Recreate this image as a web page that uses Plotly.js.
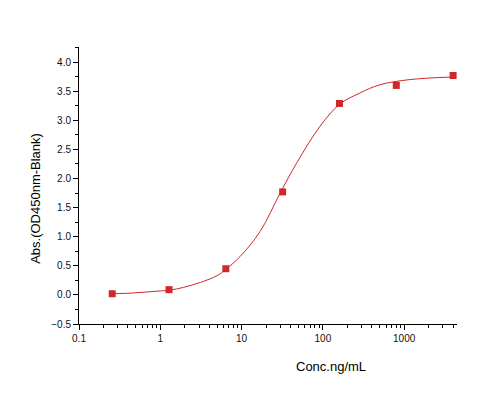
<!DOCTYPE html>
<html>
<head>
<meta charset="utf-8">
<script src="https://cdn.plot.ly/plotly-3.0.1.min.js"></script>
<style>html,body{margin:0;padding:0;background:#fff;}#chart{width:486px;height:397px;}</style>
</head>
<body>
<div id="chart"></div>
<script>
// Measured points
const concentrations = [0.256, 1.28, 6.4, 32, 160, 800, 4000];
const absorbance = [0.02, 0.09, 0.45, 1.77, 3.29, 3.60, 3.77];
// Fitted curve
const curveX = [0.256, 0.47, 0.83, 1.28, 1.94, 3.11, 4.99, 6.4, 9.6, 16.9, 29.8, 47.8, 92.5, 162, 286, 500, 1175, 4000];
const curveY = [0.02, 0.033, 0.06, 0.08, 0.13, 0.215, 0.33, 0.44, 0.66, 1.09, 1.75, 2.27, 2.90, 3.28, 3.47, 3.61, 3.70, 3.745];
const yTicks = [-0.5, 0, 0.5, 1, 1.5, 2, 2.5, 3, 3.5, 4];
const xTicks = [0.1, 1, 10, 100, 1000];
const xTickText = ['0.1', '1', '10', '100', '1000'];

const red = '#d0282a';
const font = 'Liberation Sans, Arial, sans-serif';

const traces = [
  {x: curveX, y: curveY, type: 'scatter', mode: 'lines', line: {color: red, width: 1, shape: 'spline', smoothing: 1}, hoverinfo: 'skip', showlegend: false},
  {x: concentrations, y: absorbance, type: 'scatter', mode: 'markers', marker: {symbol: 'square', size: 7, color: red}, showlegend: false}
];

const layout = {
  width: 486, height: 397,
  margin: {l: 79, r: 29, t: 47, b: 73},
  paper_bgcolor: '#fff', plot_bgcolor: '#fff',
  font: {family: font, size: 10, color: '#111'},
  showlegend: false,
  xaxis: {
    type: 'log', range: [-1, 3.65],
    tickvals: xTicks, ticktext: xTickText,
    ticks: 'outside', ticklen: 5, tickwidth: 1, tickcolor: '#000',
    minor: {ticks: 'outside', ticklen: 3, tickwidth: 1, tickcolor: '#000', dtick: 'D1'},
    showline: true, linecolor: '#000', linewidth: 1,
    showgrid: false, zeroline: false,
    tickfont: {family: font, size: 10, color: '#111'}
  },
  yaxis: {
    range: [-0.5, 4.26],
    tickvals: yTicks, tickformat: '.1f',
    ticks: 'outside', ticklen: 5, tickwidth: 1, tickcolor: '#000',
    minor: {ticks: 'outside', ticklen: 3, tickwidth: 1, tickcolor: '#000', dtick: 0.25},
    showline: true, linecolor: '#000', linewidth: 1,
    showgrid: false, zeroline: false,
    tickfont: {family: font, size: 10, color: '#111'}
  },
  annotations: [
    {text: 'Conc.ng/mL', xref: 'paper', yref: 'paper', x: 0.666, y: -0.152, xanchor: 'center', yanchor: 'middle', showarrow: false, font: {family: font, size: 13, color: '#000'}},
    {text: 'Abs.(OD450nm-Blank)', xref: 'paper', yref: 'paper', x: -0.114, y: 0.455, xanchor: 'center', yanchor: 'middle', textangle: -90, showarrow: false, font: {family: font, size: 13, color: '#000'}}
  ]
};

Plotly.newPlot('chart', traces, layout, {displayModeBar: false, staticPlot: true});
</script>
</body>
</html>
